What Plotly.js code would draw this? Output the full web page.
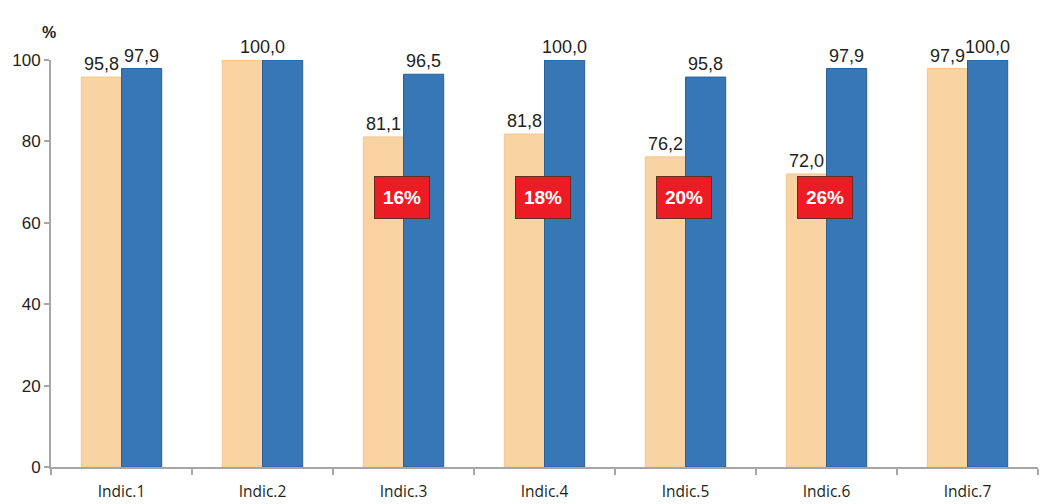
<!DOCTYPE html>
<html>
<head>
<meta charset="utf-8">
<script src="https://cdn.plot.ly/plotly-3.0.1.min.js"></script>
<style>html,body{margin:0;padding:0;background:#fff;}#chart{width:1040px;height:504px;}</style>
</head>
<body>
<div id="chart"></div>
<script>
const categories = ['Indic.1','Indic.2','Indic.3','Indic.4','Indic.5','Indic.6','Indic.7'];
const seriesA = [95.8, 100.0, 81.1, 81.8, 76.2, 72.0, 97.9];
const seriesB = [97.9, 100.0, 96.5, 100.0, 95.8, 97.9, 100.0];
const labelsA = ['95,8', '', '81,1', '81,8', '76,2', '72,0', '97,9'];
const labelsB = ['97,9', '', '96,5', '100,0', '95,8', '97,9', '100,0'];
const sharedLabelCats = ['Indic.2'];
const sharedLabels = ['100,0'];
const sharedLabelY = [100.0];
const gapCats = ['Indic.3','Indic.4','Indic.5','Indic.6'];
const gapLabels = ['16%','18%','20%','26%'];
const gapY = [66.3, 66.3, 66.3, 66.3];
const yTicks = [0, 20, 40, 60, 80, 100];

const labelFont = {family: 'Liberation Sans, Arial, sans-serif', size: 18, color: '#231f20'};

const traces = [
  {type: 'bar', x: categories, y: seriesA, text: labelsA, textposition: 'outside',
   constraintext: 'none',
   textfont: labelFont, cliponaxis: false, hoverinfo: 'none',
   marker: {color: '#F9D3A2', line: {color: '#F2C48E', width: 1}}},
  {type: 'bar', x: categories, y: seriesB, text: labelsB, textposition: 'outside',
   constraintext: 'none',
   textfont: labelFont, cliponaxis: false, hoverinfo: 'none',
   marker: {color: '#3877B6', line: {color: '#2A5F97', width: 1}}}
];

const annotations = [];
sharedLabelCats.forEach((c, i) => annotations.push({
  x: c, y: sharedLabelY[i], xref: 'x', yref: 'y', text: sharedLabels[i],
  showarrow: false, yanchor: 'bottom', yshift: 1, font: labelFont
}));
gapCats.forEach((c, i) => annotations.push({
  x: c, y: gapY[i], xref: 'x', yref: 'y', text: '<b>' + gapLabels[i] + '</b>',
  showarrow: false, xshift: -2, width: 54, height: 41, bgcolor: '#ED1C24',
  bordercolor: '#6b2a24', borderwidth: 1, borderpad: 0,
  font: {family: 'Liberation Sans, Arial, sans-serif', size: 19, color: '#ffffff'}
}));
annotations.push({
  xref: 'paper', yref: 'paper', x: (40 - 51) / 987, y: 1 + (60 - 22) / 407,
  text: '<b>%</b>', showarrow: false,
  font: {family: 'Liberation Sans, Arial, sans-serif', size: 16, color: '#231f20'}
});

const layout = {
  width: 1040, height: 504,
  margin: {l: 51, r: 2, t: 60, b: 37},
  paper_bgcolor: '#ffffff', plot_bgcolor: '#ffffff',
  showlegend: false,
  barmode: 'group', bargap: 0.43, bargroupgap: 0,
  xaxis: {
    type: 'category', showgrid: false, zeroline: false,
    showline: true, linecolor: '#a6a6a6', linewidth: 2,
    ticks: 'outside', tickson: 'boundaries', ticklen: 6, tickcolor: '#a6a6a6', tickwidth: 2,
    ticklabelstandoff: 9,
    tickfont: {family: 'Open Sans, sans-serif', size: 15.5, color: '#231f20'}
  },
  yaxis: {
    range: [0, 100], tickvals: yTicks, showgrid: false, zeroline: false,
    showline: true, linecolor: '#a6a6a6', linewidth: 2,
    ticks: 'outside', ticklen: 5, tickcolor: '#a6a6a6', tickwidth: 2,
    tickfont: {family: 'Liberation Sans, Arial, sans-serif', size: 17, color: '#231f20'}
  },
  annotations: annotations
};

Plotly.newPlot('chart', traces, layout, {displayModeBar: false, staticPlot: true});
</script>
</body>
</html>
